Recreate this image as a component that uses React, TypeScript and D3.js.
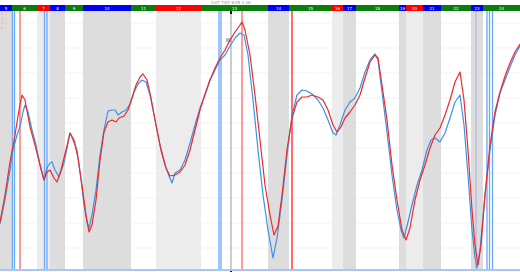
import React from "react";
import * as d3 from "d3";

const W = 520;
const H = 272;

// Time segments (boundaries in minutes) with their state and labels
const segBounds = [0, 12, 37, 50, 65, 83, 131, 156, 201, 268, 289, 332, 343, 356, 399, 406, 423, 441, 471, 483, 520];
const segStates = ["B", "G", "R", "B", "G", "B", "G", "R", "G", "B", "G", "R", "B", "G", "B", "R", "B", "G", "B", "G"];
const segLabels = ["5", "6", "7", "8", "9", "10", "11", "12", "13", "14", "15", "16", "17", "18", "19", "20", "21", "22", "23", "24"];

// Red series
const redT = [0, 5, 10, 15, 19, 22, 25, 30, 35, 40, 44, 47, 50, 54, 57, 61, 66, 70, 74, 78, 82, 86, 89, 92, 96, 100, 104, 108, 112, 116, 119, 124, 128, 132, 136, 140, 143, 147, 151, 156, 161, 166, 170, 175, 180, 185, 190, 195, 200, 205, 210, 215, 220, 225, 230, 235, 240, 242, 245, 250, 255, 260, 265, 270, 274, 278, 282, 287, 292, 297, 302, 307, 312, 318, 323, 328, 333, 337, 341, 345, 350, 355, 360, 365, 370, 375, 378, 382, 387, 392, 397, 402, 406, 410, 415, 420, 425, 430, 435, 440, 445, 450, 455, 460, 464, 468, 472, 475, 478, 481, 485, 490, 495, 500, 505, 510, 515, 520];
const redV = [46, 73, 106, 133, 158, 173, 168, 141, 123, 103, 88, 96, 98, 90, 86, 98, 118, 135, 128, 110, 83, 53, 36, 43, 68, 108, 136, 146, 148, 146, 150, 152, 158, 170, 183, 191, 194, 188, 170, 143, 118, 100, 92, 93, 96, 103, 118, 138, 158, 174, 188, 200, 210, 218, 228, 236, 243, 246, 238, 213, 173, 128, 83, 53, 33, 42, 73, 118, 150, 166, 171, 171, 173, 171, 168, 158, 143, 136, 141, 150, 156, 163, 173, 190, 206, 213, 210, 183, 148, 103, 68, 38, 28, 40, 68, 88, 103, 120, 133, 140, 153, 168, 186, 196, 168, 118, 58, 23, 3, 23, 73, 123, 156, 176, 192, 205, 216, 224];

// Blue series
const blueT = [0, 5, 10, 13, 17, 20, 23, 25, 28, 32, 36, 40, 44, 47, 50, 52, 55, 59, 64, 67, 70, 73, 77, 81, 84, 87, 89, 92, 96, 100, 104, 108, 112, 115, 118, 122, 126, 130, 134, 138, 142, 146, 150, 155, 160, 165, 169, 172, 175, 180, 185, 190, 195, 200, 205, 210, 215, 220, 225, 230, 235, 240, 244, 248, 253, 258, 263, 268, 273, 277, 282, 287, 292, 297, 302, 307, 312, 318, 323, 328, 333, 336, 340, 345, 350, 355, 360, 365, 370, 375, 378, 382, 387, 392, 397, 401, 404, 408, 412, 417, 422, 427, 431, 435, 440, 445, 450, 455, 460, 464, 468, 472, 475, 477, 480, 485, 490, 495, 500, 505, 510, 515, 520];
const blueV = [44, 68, 98, 118, 133, 141, 156, 163, 156, 138, 123, 103, 88, 100, 105, 106, 98, 91, 105, 120, 135, 128, 118, 88, 63, 46, 40, 53, 78, 113, 138, 157, 158, 158, 153, 156, 158, 164, 176, 184, 188, 186, 173, 148, 123, 103, 92, 85, 95, 98, 108, 125, 143, 160, 173, 188, 198, 208, 213, 222, 230, 235, 233, 213, 168, 118, 73, 38, 10, 30, 68, 113, 153, 173, 178, 177, 174, 168, 160, 148, 135, 133, 143, 158, 166, 170, 180, 196, 208, 214, 208, 176, 136, 93, 58, 38, 30, 46, 63, 83, 98, 118, 128, 130, 126, 135, 150, 166, 173, 143, 93, 38, 10, 0, 18, 73, 118, 153, 175, 188, 201, 213, 222];

// Event markers
const markerT = [12.5, 14.5, 20, 44.5, 47, 219, 221, 231, 242, 292, 476, 487, 489.5, 492.5];
const markerKind = ["blue", "blue", "pink", "blue", "blue", "blue", "blue", "cursor", "pink", "red", "violet", "blue", "blue", "blue"];

const legendLabels = ["1 —", "2 —", "3 —", "4 —"];
const cursorLabel = "2:07 7/07 6:05 1 (8)";
const gridTicks = [20, 45, 70, 95, 120, 145, 170, 195, 220, 245];

const barColor: Record<string, string> = { B: "#0000f0", G: "#0a7d0a", R: "#ff0000" };
const bandColor: Record<string, string> = { B: "#dddddd", G: "#ffffff", R: "#ececec" };

export default function App() {
  const plotTop = 11;
  const plotBottom = 268;
  const x = d3.scaleLinear().domain([0, 520]).range([0, W]);
  const y = d3.scaleLinear().domain([0, 257]).range([plotBottom, plotTop]);

  const redData = redT.map((t, i) => [t, redV[i]] as [number, number]);
  const blueData = blueT.map((t, i) => [t, blueV[i]] as [number, number]);
  const line = d3
    .line<[number, number]>()
    .x((d) => x(d[0]))
    .y((d) => y(d[1]));

  const segs = segStates.map((s, i) => ({
    s,
    x0: x(segBounds[i]),
    x1: x(segBounds[i + 1]),
    label: segLabels[i],
  }));

  const markerStyle: Record<string, { stroke: string; w: number }> = {
    blue: { stroke: "#6aa8f2", w: 1.3 },
    pink: { stroke: "#ff9a9a", w: 2 },
    red: { stroke: "#ff2020", w: 1.3 },
    violet: { stroke: "#c4c4dc", w: 2 },
    cursor: { stroke: "#9a9a9a", w: 1 },
  };

  return (
    <div style={{ position: "fixed", left: 0, top: 0, width: W, height: H, background: "#fff" }}>
      <svg width={W} height={H} style={{ display: "block" }} fontFamily="DejaVu Sans, sans-serif">
        <rect x={0} y={0} width={W} height={H} fill="#fff" />
        {gridTicks.map((g) => (
          <line key={g} x1={0} x2={W} y1={y(g)} y2={y(g)} stroke="#f3f3f3" strokeWidth={1} />
        ))}
        {segs
          .filter((d) => d.s !== "G")
          .map((d, i) => (
            <rect key={i} x={d.x0} y={plotTop} width={d.x1 - d.x0} height={plotBottom - plotTop + 1} fill={bandColor[d.s]} />
          ))}
        {markerT.map((t, i) => {
          const st = markerStyle[markerKind[i]];
          return (
            <line key={i} x1={x(t)} x2={x(t)} y1={plotTop} y2={plotBottom + 1} stroke={st.stroke} strokeWidth={st.w} />
          );
        })}
        <rect x={x(231) - 1} y={plotTop} width={2} height={3} fill="#111" />
        <rect x={x(231) - 1} y={plotBottom + 1} width={2} height={3} fill="#111" />
        <line x1={x(226)} x2={x(231.5)} y1={39} y2={39} stroke="#555" strokeWidth={0.8} />
        <line x1={x(226)} x2={x(231.5)} y1={41} y2={41} stroke="#555" strokeWidth={0.8} />
        <text x={x(231)} y={4} fontSize={4} fill="#8a8a8a" textAnchor="middle">
          {cursorLabel}
        </text>
        <path d={line(blueData) || ""} fill="none" stroke="#3f8fe8" strokeWidth={1.2} strokeLinejoin="round" />
        <path d={line(redData) || ""} fill="none" stroke="#ec2a2a" strokeWidth={1.2} strokeLinejoin="round" />
        {segs.map((d, i) => (
          <g key={i}>
            <rect x={d.x0} y={5} width={d.x1 - d.x0} height={6} fill={barColor[d.s]} />
            <text x={(d.x0 + d.x1) / 2} y={9.6} fontSize={4} fill="#fff" textAnchor="middle">
              {d.label}
            </text>
          </g>
        ))}
        {legendLabels.map((l, i) => (
          <text key={i} x={1} y={15 + i * 4.5} fontSize={3.2} fill="#f08080">
            {l}
          </text>
        ))}
        <rect x={0} y={plotBottom + 1} width={W} height={2} fill="#a9c7ec" />
      </svg>
    </div>
  );
}
